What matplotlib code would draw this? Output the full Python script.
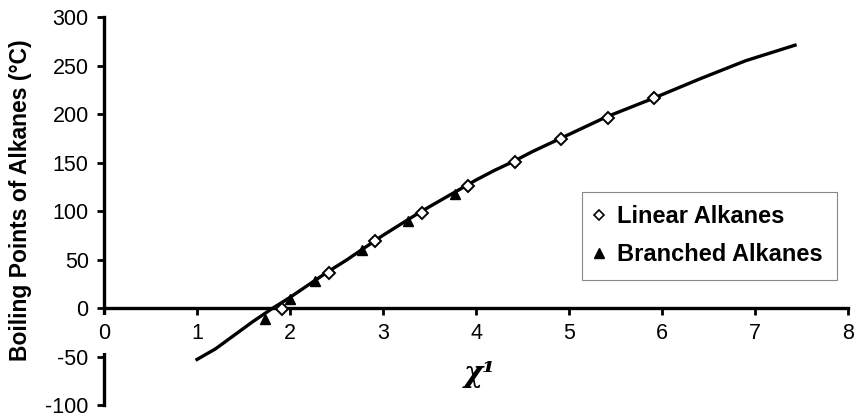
import numpy as np
import matplotlib
matplotlib.use('Agg')
import matplotlib.pyplot as plt
from matplotlib.lines import Line2D

plt.rcParams['font.family'] = ['Liberation Sans', 'DejaVu Sans']
plt.rcParams['axes.unicode_minus'] = False

# connectivity index chi^1 vs boiling point (deg C)
linear_chi = [1.914, 2.414, 2.914, 3.414, 3.914, 4.414, 4.914, 5.414, 5.914]
linear_bp = [-0.5, 36.1, 68.7, 98.4, 125.7, 150.8, 174.1, 195.9, 216.3]

branched_chi = [1.732, 2.000, 2.270, 2.770, 3.270, 3.770]
branched_bp = [-11.7, 9.5, 27.8, 60.3, 90.0, 117.6]

# fitted correlation curve
curve_chi = [1.0, 1.2, 1.4, 1.6, 1.8, 2.0, 2.2, 2.4, 2.6, 2.8, 3.0, 3.2, 3.4,
             3.6, 3.8, 4.0, 4.2, 4.4, 4.6, 4.8, 5.0, 5.4, 5.9, 6.4, 6.9, 7.43]
curve_bp = [-53, -42, -28, -14, -1, 11, 24, 37, 49, 62, 75, 87, 99,
            110, 121, 132, 142, 151, 161, 170, 179, 197, 216, 236, 255, 271]

xticks = [0, 1, 2, 3, 4, 5, 6, 7, 8]
yticks = [-100, -50, 0, 50, 100, 150, 200, 250, 300]

fig = plt.figure(figsize=(8.56, 4.18), dpi=100)
ax = fig.add_axes([0.1215, 0.031, 0.8692, 0.9282])

ax.plot(curve_chi, curve_bp, color='black', lw=2.4, zorder=2)
ax.plot(linear_chi, linear_bp, ls='none', marker='D', ms=6.5, mfc='white',
        mec='black', mew=1.4, zorder=3)
ax.plot(branched_chi, branched_bp, ls='none', marker='^', ms=7.5,
        color='black', zorder=3)

ax.set_xlim(0, 8)
ax.set_ylim(-100, 300)
ax.set_xticks(xticks)
ax.set_yticks(yticks)

for s in ['top', 'right']:
    ax.spines[s].set_visible(False)
ax.spines['bottom'].set_position(('data', 0))
ax.spines['left'].set_position(('data', 0))
ax.spines['bottom'].set_linewidth(2.4)
ax.spines['left'].set_linewidth(2.4)
ax.spines['left'].set_zorder(1)
ax.spines['bottom'].set_zorder(1)

ax.tick_params(axis='both', direction='out', length=5, width=2,
               labelsize=15.5)
ax.tick_params(axis='x', pad=6)
ax.tick_params(axis='y', pad=6)

# white box behind the "0" label breaks the y axis under the x labels
lab0 = ax.get_xticklabels()[0]
lab0.set_bbox(dict(boxstyle='square,pad=0.4', fc='white', ec='none'))

ax.set_ylabel('Boiling Points of Alkanes (\u00b0C)', fontsize=16.5,
              fontweight='bold')
ax.yaxis.set_label_coords(-0.097, 0.527)
ax.set_xlabel('\u03c7\u00b9', fontsize=21, fontweight='bold',
              fontstyle='italic', family='DejaVu Serif')
ax.xaxis.set_label_coords(0.505, 0.118)

handles = [Line2D([], [], ls='none', marker='D', ms=5, mfc='white',
                  mec='black', mew=1.2),
           Line2D([], [], ls='none', marker='^', ms=6.5, color='black')]
leg = ax.legend(handles, ['Linear Alkanes', 'Branched Alkanes'],
                loc='upper left', bbox_to_anchor=(0.6425, 0.327, 0.3425, 0.223),
                mode='expand', borderaxespad=0, fancybox=False, framealpha=1,
                edgecolor='#888888', handlelength=0.3, handletextpad=0.6,
                labelspacing=0.62, borderpad=0.58,
                prop={'weight': 'bold', 'size': 17})
leg.get_frame().set_linewidth(0.8)

fig.savefig('out.png', dpi=100)
